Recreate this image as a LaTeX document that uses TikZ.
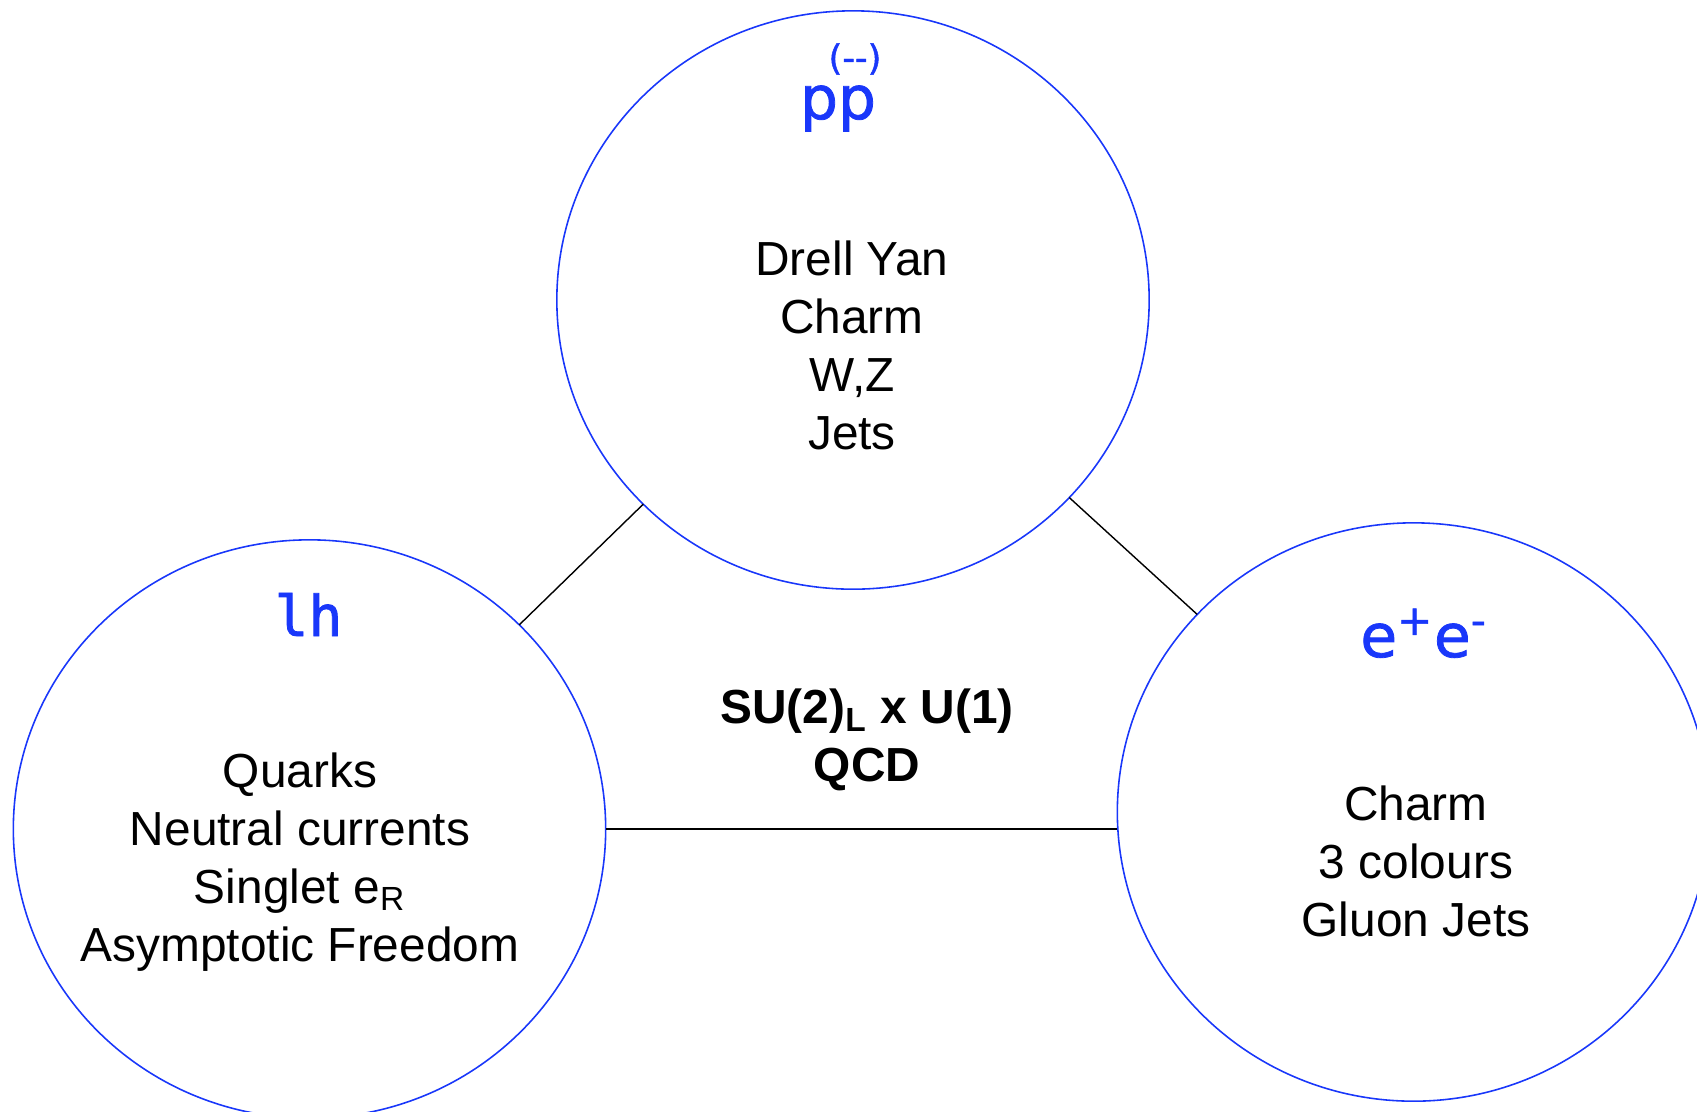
\documentclass[tikz,border=0pt]{standalone}
\usepackage{fontspec}
\setmainfont{Liberation Sans}
\newfontfamily\headsans[FakeBold=1.3]{DejaVu Sans}
\newfontfamily\headmono[FakeBold=1.5]{DejaVu Sans Mono}
\usetikzlibrary{shapes.geometric, positioning}
\definecolor{ringblue}{RGB}{25,55,250}

\begin{document}
\begin{tikzpicture}[
    x=0.01cm, y=-0.01cm,
    ring/.style={ellipse, draw=ringblue, line width=0.45pt, minimum width=5.92cm, minimum height=5.78cm, inner sep=0pt, outer sep=0pt},
    tag/.style={text=ringblue, font=\headsans\fontsize{17}{20}\selectfont, inner sep=0pt},
    body/.style={align=center, font=\fontsize{13.6}{16.5}\selectfont, inner sep=0pt},
    link/.style={draw=black, line width=0.4pt}
]
\clip (0,0) rectangle (1697,1111);

% Experiments
\node[ring] (pp) at (853,300) {};
\node[ring] (lh) at (309.5,829) {};
\node[ring] (ee) at (1413.5,812) {};

% Titles
\node[tag, anchor=base] (pp_tag) at (838,119) {pp};
\node[tag, font=\headsans\fontsize{10}{12}\selectfont] (pp_bar) at (855,59) {(-{}-)};
\node[tag, font=\headmono\fontsize{16}{19}\selectfont, anchor=base] (lh_tag) at (308.5,636) {lh};
\node[tag, anchor=base] (ee_tag) at (1424,657) {e\textsuperscript{+}e\textsuperscript{-}};

% Results
\node[body] (pp_list) at (852,345.5) {Drell Yan\\Charm\\W,Z\\Jets};
\node[body] (lh_list) at (300,862) {Quarks\\Neutral currents\\Singlet e\textsubscript{R}\\Asymptotic Freedom};
\node[body] (ee_list) at (1416,861) {Charm\\3 colours\\Gluon Jets};
\node[body, font=\bfseries\fontsize{13.6}{16.5}\selectfont] (theory) at (867,740) {SU(2)\textsubscript{L} x U(1)\\QCD};

% Links
\draw[link] (lh) -- (pp);
\draw[link] (pp) -- (ee);
\draw[link] (lh.east) -- (lh.east -| ee.west);

\end{tikzpicture}
\end{document}
